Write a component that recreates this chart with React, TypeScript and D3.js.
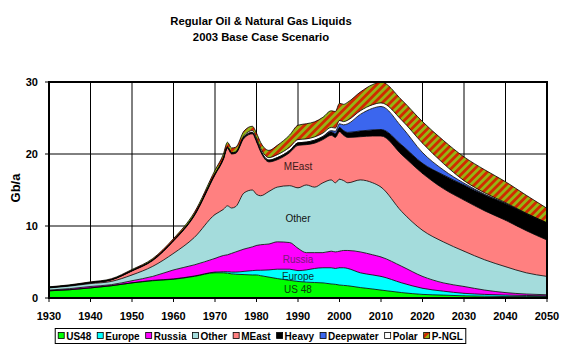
import { useEffect, useRef } from "react";
import * as d3 from "d3";

// Annual production, Gb/a
const years = [1930, 1935, 1940, 1945, 1950, 1955, 1960, 1965, 1970, 1972,
  1973, 1974, 1975, 1977, 1979, 1980, 1981, 1983, 1985, 1988,
  1990, 1992, 1994, 1996, 1998, 1999, 2000, 2001, 2002, 2005,
  2008, 2010, 2015, 2020, 2025, 2030, 2035, 2040, 2045, 2050];

const us48 = [1.0, 1.15, 1.4, 1.7, 2.1, 2.4, 2.6, 3.0, 3.5, 3.5,
  3.45, 3.35, 3.3, 3.25, 3.2, 3.2, 3.1, 2.9, 2.7, 2.45,
  2.3, 2.2, 2.15, 2.1, 1.95, 1.9, 1.8, 1.75, 1.7, 1.45,
  1.25, 1.1, 0.75, 0.5, 0.4, 0.3, 0.25, 0.2, 0.2, 0.2];
const europe = [0, 0, 0, 0, 0, 0.05, 0.05, 0.05, 0.1, 0.15,
  0.2, 0.25, 0.3, 0.45, 0.6, 0.65, 0.75, 1.0, 1.3, 1.55,
  1.5, 1.7, 1.95, 2.1, 2.25, 2.2, 2.4, 2.45, 2.4, 2.05,
  1.95, 1.9, 1.35, 0.85, 0.55, 0.35, 0.25, 0.2, 0.15, 0.1];
const russia = [0.1, 0.15, 0.2, 0.15, 0.3, 0.55, 1.25, 1.55, 1.9, 2.25,
  2.35, 2.6, 2.8, 3.1, 3.3, 3.45, 3.55, 3.6, 3.8, 3.7,
  3.1, 2.4, 2.2, 2.1, 2.3, 2.3, 2.3, 2.4, 2.5, 2.9,
  2.8, 2.7, 2.3, 1.65, 1.15, 0.95, 0.6, 0.35, 0.2, 0.15];
const other = [0.3, 0.35, 0.4, 0.45, 0.8, 1.4, 2.3, 3.8, 6.1, 6.4,
  6.8, 6.3, 6.3, 7.8, 7.9, 7.1, 6.8, 7.3, 7.6, 7.9,
  8.4, 9.4, 9.1, 9.7, 9.9, 9.6, 10.0, 9.7, 9.4, 10.0,
  10.0, 9.7, 7.6, 6.4, 5.7, 4.9, 4.2, 3.6, 2.95, 2.55];
const meast = [0.05, 0.07, 0.1, 0.2, 0.55, 0.8, 1.7, 3.0, 5.5, 6.9,
  8.0, 7.5, 7.4, 7.6, 7.8, 7.3, 6.1, 4.1, 3.8, 4.6,
  5.9, 5.6, 6.1, 6.0, 6.2, 6.3, 6.6, 6.3, 6.3, 6.0,
  6.5, 7.1, 7.9, 7.9, 7.4, 7.1, 6.8, 6.45, 5.85, 5.05];
const heavy = [0.03, 0.03, 0.04, 0.05, 0.06, 0.08, 0.1, 0.12, 0.15, 0.15,
  0.15, 0.15, 0.15, 0.2, 0.2, 0.2, 0.2, 0.25, 0.3, 0.3,
  0.35, 0.35, 0.4, 0.4, 0.5, 0.55, 0.6, 0.65, 0.7, 0.8,
  0.85, 0.9, 1.35, 1.4, 1.9, 2.1, 2.2, 2.3, 2.35, 2.35];
const deepwater = [0, 0, 0, 0, 0, 0, 0, 0, 0, 0,
  0, 0, 0, 0, 0, 0, 0, 0, 0, 0,
  0, 0, 0.02, 0.05, 0.15, 0.3, 0.5, 0.8, 1.2, 2.3,
  3.0, 3.2, 2.5, 1.5, 0.7, 0.25, 0.1, 0.05, 0.02, 0];
const polar = [0, 0, 0, 0, 0, 0, 0, 0, 0, 0.02,
  0.03, 0.04, 0.05, 0.15, 0.25, 0.3, 0.3, 0.35, 0.4, 0.45,
  0.45, 0.45, 0.45, 0.45, 0.45, 0.45, 0.45, 0.45, 0.5, 0.5,
  0.5, 0.5, 0.95, 1.3, 0.9, 0.35, 0.2, 0.1, 0.05, 0.05];
const pngl = [0.07, 0.08, 0.1, 0.12, 0.15, 0.2, 0.25, 0.35, 0.5, 0.6,
  0.65, 0.65, 0.65, 0.65, 0.6, 0.7, 0.8, 1.0, 1.3, 1.7,
  2.0, 2.1, 2.1, 2.2, 2.3, 2.3, 2.4, 2.4, 2.5, 2.6,
  2.8, 2.9, 2.8, 3.0, 3.2, 3.3, 3.2, 2.9, 2.5, 2.0];

const seriesNames = ["US48", "Europe", "Russia", "Other", "MEast", "Heavy", "Deepwater", "Polar", "P-NGL"];
const seriesValues = [us48, europe, russia, other, meast, heavy, deepwater, polar, pngl];
const seriesColors = ["#00ff00", "#00ffff", "#ff00ff", "#a4dcdc", "#ff8080", "#000000", "#3b66ee", "#ffffff", "url(#pngl-hatch)"];

// in-chart labels (series index -> text, colour)
const bandLabels: [number, string, string][] = [
  [0, "US 48", "#0b3a0b"], [1, "Europe", "#0b3333"], [2, "Russia", "#7a1a7a"],
  [3, "Other", "#111111"], [4, "MEast", "#3a1a1a"],
];
const labelYear = 1990;

const xTicks = d3.range(1930, 2051, 10);
const yTicks = [0, 10, 20, 30];
const titleLines = ["Regular Oil & Natural Gas Liquids", "2003 Base Case Scenario"];
const FONT = "'Liberation Sans', Arial, sans-serif";

export default function App() {
  const ref = useRef<SVGSVGElement>(null);

  useEffect(() => {
    if (!ref.current) return;
    const svg = d3.select(ref.current);
    svg.selectAll("*").remove();

    const x = d3.scaleLinear().domain([1930, 2050]).range([49, 547]);
    const y = d3.scaleLinear().domain([0, 30]).range([298, 82]);

    // hatch for P-NGL
    const defs = svg.append("defs");
    const pat = defs.append("pattern").attr("id", "pngl-hatch")
      .attr("patternUnits", "userSpaceOnUse").attr("width", 5.6).attr("height", 5.6)
      .attr("patternTransform", "rotate(45)");
    pat.append("rect").attr("width", 5.6).attr("height", 5.6).attr("fill", "#96b414");
    pat.append("rect").attr("width", 2.8).attr("height", 5.6).attr("fill", "#d02a00");

    svg.append("rect").attr("width", 572).attr("height", 351).attr("fill", "#fff");

    // Title
    titleLines.forEach((t, i) => {
      svg.append("text").attr("x", 261).attr("y", 25 + i * 15.5)
        .attr("text-anchor", "middle").attr("font-family", FONT)
        .attr("font-weight", "bold").attr("font-size", 11.3).attr("fill", "#000")
        .text(t);
    });

    // Grid
    const grid = svg.append("g");
    xTicks.slice(1, -1).forEach(t => {
      grid.append("line").attr("x1", x(t)).attr("x2", x(t))
        .attr("y1", y(30)).attr("y2", y(0)).attr("stroke", "#000").attr("stroke-width", 1);
    });
    yTicks.slice(1, -1).forEach(t => {
      grid.append("line").attr("x1", x(1930)).attr("x2", x(2050))
        .attr("y1", y(t)).attr("y2", y(t)).attr("stroke", "#000").attr("stroke-width", 1);
    });

    // Stacked areas
    const table = years.map((yr, i) => {
      const row: Record<string, number> = { year: yr };
      seriesNames.forEach((n, k) => { row[n] = seriesValues[k][i]; });
      return row;
    });
    const stacked = d3.stack<Record<string, number>>().keys(seriesNames)(table);
    const area = d3.area<d3.SeriesPoint<Record<string, number>>>()
      .x(d => x(d.data.year)).y0(d => y(d[0])).y1(d => y(d[1]))
      .curve(d3.curveMonotoneX);
    const top = d3.line<d3.SeriesPoint<Record<string, number>>>()
      .x(d => x(d.data.year)).y(d => y(d[1]))
      .curve(d3.curveMonotoneX);

    const areas = svg.append("g");
    stacked.forEach((s, k) => {
      areas.append("path").attr("d", area(s) as string).attr("fill", seriesColors[k]);
    });
    stacked.forEach(s => {
      areas.append("path").attr("d", top(s) as string).attr("fill", "none")
        .attr("stroke", "#000").attr("stroke-width", 0.8);
    });

    // band labels
    const li = years.indexOf(labelYear);
    bandLabels.forEach(([k, txt, col]) => {
      const p = stacked[k][li];
      svg.append("text").attr("x", x(labelYear)).attr("y", y((p[0] + p[1]) / 2))
        .attr("dy", "0.35em").attr("text-anchor", "middle")
        .attr("font-family", FONT).attr("font-size", 10).attr("fill", col)
        .text(txt);
    });

    // Frame
    svg.append("rect").attr("x", x(1930)).attr("y", y(30))
      .attr("width", x(2050) - x(1930)).attr("height", y(0) - y(30))
      .attr("fill", "none").attr("stroke", "#000").attr("stroke-width", 2);

    // X axis ticks + labels
    xTicks.forEach(t => {
      svg.append("line").attr("x1", x(t)).attr("x2", x(t)).attr("y1", y(0)).attr("y2", y(0) + 4)
        .attr("stroke", "#000").attr("stroke-width", 1);
      svg.append("text").attr("x", x(t)).attr("y", 320).attr("text-anchor", "middle")
        .attr("font-family", FONT).attr("font-weight", "bold").attr("font-size", 11)
        .text(t);
    });

    // Y axis ticks + labels
    yTicks.forEach(t => {
      svg.append("line").attr("x1", x(1930) - 4).attr("x2", x(1930)).attr("y1", y(t)).attr("y2", y(t))
        .attr("stroke", "#000").attr("stroke-width", 1);
      svg.append("text").attr("x", 38).attr("y", y(t)).attr("dy", "0.36em")
        .attr("text-anchor", "end").attr("font-family", FONT)
        .attr("font-weight", "bold").attr("font-size", 11).text(t);
    });
    svg.append("text").attr("transform", "translate(20,188) rotate(-90)")
      .attr("text-anchor", "middle").attr("font-family", FONT)
      .attr("font-weight", "bold").attr("font-size", 13).text("Gb/a");

    // Legend
    const lg = svg.append("g");
    const box = lg.append("rect").attr("fill", "#fff").attr("stroke", "#000").attr("stroke-width", 1);
    let cx = 0;
    seriesNames.forEach((n, k) => {
      lg.append("rect").attr("x", cx).attr("y", -3.5).attr("width", 6).attr("height", 6)
        .attr("fill", seriesColors[k]).attr("stroke", "#000").attr("stroke-width", 0.8);
      const t = lg.append("text").attr("x", cx + 8).attr("y", 0).attr("dy", "0.35em")
        .attr("font-family", FONT).attr("font-weight", "bold").attr("font-size", 10)
        .text(n);
      const w = (t.node() as SVGTextElement).getComputedTextLength();
      cx += 8 + w + (k < seriesNames.length - 1 ? 6 : 0);
    });
    const lw = cx + 6;
    box.attr("x", -3).attr("y", -7.5).attr("width", lw).attr("height", 15);
    lg.attr("transform", `translate(${260.5 - lw / 2 + 3},${336})`);
  }, []);

  return (
    <svg ref={ref} width={572} height={351}
      style={{ position: "absolute", left: 0, top: 0, display: "block" }} />
  );
}
